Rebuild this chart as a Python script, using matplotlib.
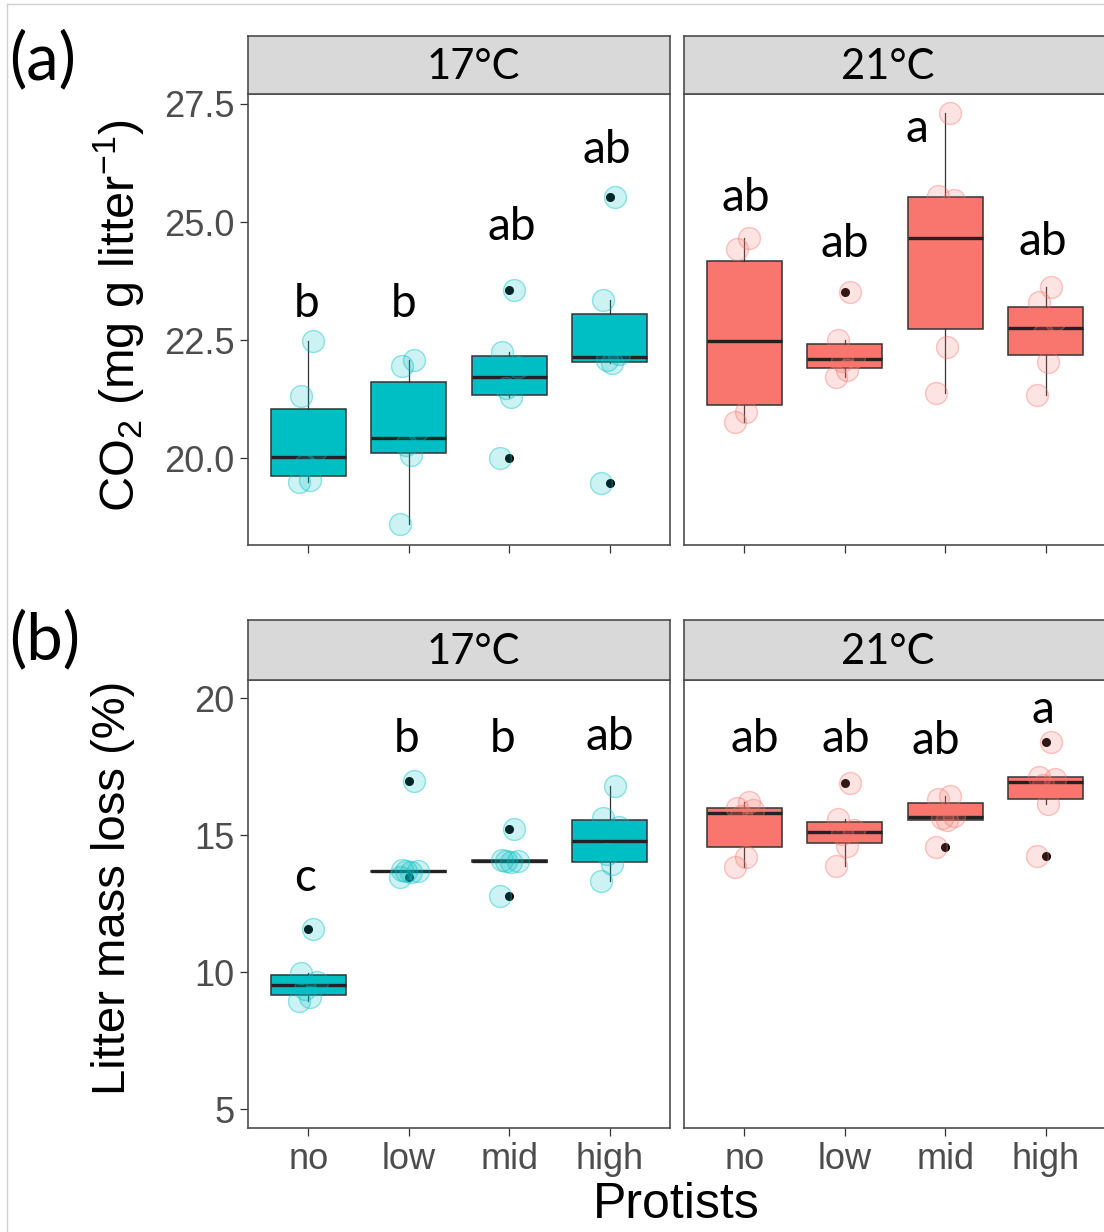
import matplotlib
matplotlib.use("Agg")
import matplotlib.pyplot as plt
from matplotlib.colors import to_rgba
from matplotlib.lines import Line2D
import numpy as np

# ---------------- data ----------------
categories = ["no", "low", "mid", "high"]
temps = ["17°C", "21°C"]

co2_17_no = [22.48, 21.32, 20.20, 19.86, 19.54, 19.50]
co2_17_low = [22.08, 21.95, 20.60, 20.28, 20.07, 18.62]
co2_17_mid = [23.56, 22.25, 21.94, 21.48, 21.30, 20.00]
co2_17_high = [25.54, 23.35, 22.20, 22.08, 22.01, 19.48]

co2_21_no = [24.66, 24.42, 23.42, 21.55, 20.99, 20.77]
co2_21_low = [23.53, 22.50, 22.15, 22.05, 21.87, 21.73]
co2_21_mid = [27.30, 25.55, 25.47, 23.86, 22.36, 21.38]
co2_21_high = [23.63, 23.30, 22.93, 22.60, 22.04, 21.34]

mass_17_no = [11.59, 9.98, 9.66, 9.40, 9.10, 8.95]
mass_17_low = [16.98, 13.72, 13.70, 13.69, 13.66, 13.48]
mass_17_mid = [15.25, 14.10, 14.06, 14.05, 14.02, 12.78]
mass_17_high = [16.80, 15.62, 15.31, 14.31, 13.95, 13.33]

mass_21_no = [16.20, 16.01, 15.94, 15.72, 14.20, 13.85]
mass_21_low = [16.90, 15.60, 15.21, 15.05, 14.60, 13.90]
mass_21_mid = [16.43, 16.33, 15.70, 15.62, 15.55, 14.58]
mass_21_high = [18.40, 17.14, 17.07, 16.85, 16.13, 14.26]

# significance letters and their heights (data units)
letters_a17 = ["b", "b", "ab", "ab"]
letter_y_a17 = [22.98, 22.98, 24.62, 26.26]
letters_a21 = ["ab", "ab", "a", "ab"]
letter_y_a21 = [25.24, 24.27, 26.70, 24.30]
letters_b17 = ["c", "b", "b", "ab"]
letter_y_b17 = [12.98, 18.05, 18.05, 18.11]
letters_b21 = ["ab", "ab", "ab", "a"]
letter_y_b21 = [18.05, 18.05, 17.97, 19.09]

co2_ticks = [20.0, 22.5, 25.0, 27.5]
mass_ticks = [5, 10, 15, 20]

# ---------------- style ----------------
W, H = 1104, 1232
TEAL = "#00BFC4"
SALMON = "#F8766D"
JITTER = [0.05, -0.07, 0.09, -0.03, 0.02, -0.09]
LETTER_DX_A17 = [-0.02, -0.05, 0.03, -0.03]
LETTER_DX_A21 = [0.02, 0.0, -0.28, -0.03]
LETTER_DX_B17 = [-0.03, -0.02, -0.07, 0.0]
LETTER_DX_B21 = [0.10, 0.01, -0.09, -0.03]
STRIP_DX = [14, -7]

LAB_FONT = ["Liberation Sans", "DejaVu Sans"]
ANN_FONT = ["Lato", "Open Sans", "DejaVu Sans"]
plt.rcParams["mathtext.fontset"] = "custom"
plt.rcParams["mathtext.rm"] = "Liberation Sans"
plt.rcParams["mathtext.it"] = "Liberation Sans:italic"

fig = plt.figure(figsize=(W / 100, H / 100), dpi=100)


def rect(x0, y0, x1, y1):
    return [x0 / W, 1 - y1 / H, (x1 - x0) / W, (y1 - y0) / H]


def draw_panel(ax, groups, color, ylim, yticks, ytickfmt, letters, letter_y, letter_dx,
               show_y, show_xlabels):
    pos = np.arange(1, len(categories) + 1)
    ax.boxplot(groups, positions=pos, widths=0.75, patch_artist=True, whis=1.5,
               showcaps=False,
               boxprops=dict(facecolor=color, edgecolor="#333333", linewidth=1.1),
               medianprops=dict(color="#222222", linewidth=2.4),
               whiskerprops=dict(color="#333333", linewidth=0.9),
               flierprops=dict(marker="o", markerfacecolor="black", markeredgecolor="black",
                               markersize=5.5, linestyle="none"),
               zorder=2)
    fc = to_rgba(color, 0.2)
    ec = to_rgba(color, 0.4)
    for i, vals in enumerate(groups):
        xs = [pos[i] + JITTER[j % len(JITTER)] for j in range(len(vals))]
        ax.scatter(xs, vals, s=250, facecolors=[fc], edgecolors=[ec], linewidths=1.0,
                   zorder=3)
    for i, (lab, yv) in enumerate(zip(letters, letter_y)):
        ax.text(pos[i] + letter_dx[i], yv, lab, ha="center", va="baseline",
                fontsize=33, family=ANN_FONT, color="black", zorder=4)
    ax.set_xlim(0.4, 4.6)
    ax.set_ylim(*ylim)
    ax.set_xticks(pos)
    if show_xlabels:
        ax.set_xticklabels(categories)
    else:
        ax.set_xticklabels([])
    ax.set_yticks(yticks)
    if show_y:
        ax.set_yticklabels([ytickfmt.format(t) for t in yticks])
    else:
        ax.tick_params(axis="y", left=False, labelleft=False)
    ax.tick_params(axis="both", length=5.8, width=0.9, color="#333333",
                   labelsize=26, labelcolor="#4D4D4D", pad=4)
    for lab in ax.get_xticklabels() + ax.get_yticklabels():
        lab.set_family(LAB_FONT)
    for sp in ax.spines.values():
        sp.set_color("#4d4d4d")
        sp.set_linewidth(1.2)
    ax.set_facecolor("white")


def draw_strip(x0, y0, x1, y1, label, dx):
    sax = fig.add_axes(rect(x0, y0, x1, y1))
    sax.set_facecolor("#D9D9D9")
    sax.set_xticks([])
    sax.set_yticks([])
    for sp in sax.spines.values():
        sp.set_color("#4d4d4d")
        sp.set_linewidth(1.2)
    sax.text(0.5 + dx / (x1 - x0), 0.47, label, transform=sax.transAxes,
             ha="center", va="center", fontsize=30, family=ANN_FONT, color="black")


# panel geometry (pixels)
XL = [(248, 670), (684, 1106)]
A_STRIP = (36, 94)
A_PLOT = (94, 545)
B_STRIP = (620, 680)
B_PLOT = (680, 1128)

co2_groups = [[co2_17_no, co2_17_low, co2_17_mid, co2_17_high],
              [co2_21_no, co2_21_low, co2_21_mid, co2_21_high]]
mass_groups = [[mass_17_no, mass_17_low, mass_17_mid, mass_17_high],
               [mass_21_no, mass_21_low, mass_21_mid, mass_21_high]]
colors = [TEAL, SALMON]

for k in range(2):
    x0, x1 = XL[k]
    axa = fig.add_axes(rect(x0, A_PLOT[0], x1, A_PLOT[1]))
    draw_panel(axa, co2_groups[k], colors[k], (18.165, 27.71), co2_ticks, "{:.1f}",
               [letters_a17, letters_a21][k], [letter_y_a17, letter_y_a21][k],
               [LETTER_DX_A17, LETTER_DX_A21][k], show_y=(k == 0), show_xlabels=False)
    draw_strip(x0, A_STRIP[0], x1, A_STRIP[1], temps[k], STRIP_DX[k])

    axb = fig.add_axes(rect(x0, B_PLOT[0], x1, B_PLOT[1]))
    draw_panel(axb, mass_groups[k], colors[k], (4.32, 20.67), mass_ticks, "{:d}",
               [letters_b17, letters_b21][k], [letter_y_b17, letter_y_b21][k],
               [LETTER_DX_B17, LETTER_DX_B21][k], show_y=(k == 0), show_xlabels=True)
    draw_strip(x0, B_STRIP[0], x1, B_STRIP[1], temps[k], STRIP_DX[k])

# axis titles
fig.text(119 / W, 1 - 316 / H, r"CO$_2$ (mg g litter$^{-1}$)", rotation=90,
         ha="center", va="center", fontsize=35, family=LAB_FONT, color="black")
fig.text(113 / W, 1 - 888 / H, "Litter mass loss (%)", rotation=90,
         ha="center", va="center", fontsize=34, family=LAB_FONT, color="black")
fig.text(676 / W, 1 - 1205 / H, "Protists", ha="center", va="center",
         fontsize=36, family=LAB_FONT, color="black")

# panel tags
fig.text(9 / W, 1 - 60 / H, "(a)", ha="left", va="center", fontsize=47,
         family=ANN_FONT, color="black")
fig.text(9 / W, 1 - 640 / H, "(b)", ha="left", va="center", fontsize=47,
         family=ANN_FONT, color="black")

# light outer frame
frame_kw = dict(color="#d0d0d0", linewidth=1.0, transform=fig.transFigure)
fig.add_artist(Line2D([7 / W, 7 / W], [0, 1 - 4 / H], **frame_kw))
fig.add_artist(Line2D([7 / W, 1], [1 - 4 / H, 1 - 4 / H], **frame_kw))

fig.savefig("out.png", dpi=100, facecolor="white")
